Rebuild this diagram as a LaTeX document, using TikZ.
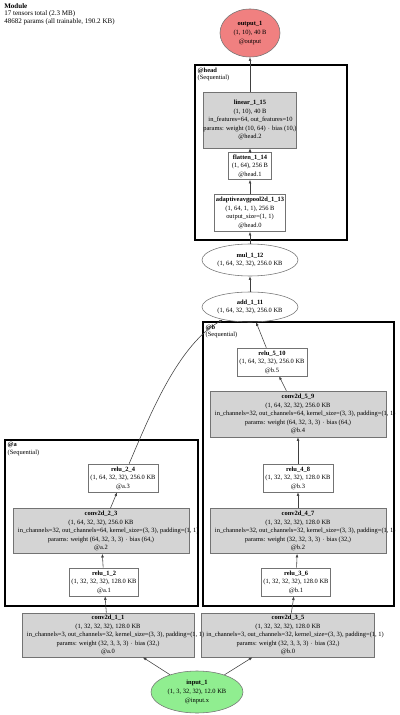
\documentclass[tikz,border=0pt]{standalone}
\usepackage{fontspec}
\setmainfont{Liberation Serif}
\usetikzlibrary{positioning,shapes,arrows.meta}
\definecolor{outred}{HTML}{F08080}
\definecolor{ingreen}{HTML}{90EE90}
\tikzstyle{block} = [draw=black!55, fill=white, inner sep=0pt, align=center, minimum width=1.75cm, minimum height=0.7cm]
\tikzstyle{pblock} = [block, fill=black!17]
\tikzstyle{blob} = [draw=black!55, ellipse, inner sep=0pt, align=center]
\tikzstyle{cluster} = [draw, line width=1.7pt]
\tikzstyle{clabel} = [anchor=north west, align=left, inner sep=1pt, font=\fontsize{4.6}{5.4}\selectfont]
\tikzstyle{edge} = [draw=black!75, -{Latex[length=2.6pt,width=2pt]}]
\newcommand{\rowtxt}[1]{\makebox[0pt]{#1}}
\newcommand{\widerow}[1]{\makebox[0pt][l]{\hspace*{\dimexpr 0.125cm-(\pgfkeysvalueof{/pgf/minimum width})/2\relax}#1}}
\newcommand{\actbox}[3]{\rowtxt{\textbf{#1}}\\\rowtxt{#2}\\\rowtxt{#3}}
\newcommand{\convbox}[5]{\rowtxt{\textbf{#1}}\\\rowtxt{#2}\\\widerow{#3}\\\rowtxt{#4}\\\rowtxt{#5}}

\begin{document}
\begin{tikzpicture}[x=0.025cm, y=-0.025cm, font=\fontsize{4.6}{6.1}\selectfont]
        \useasboundingbox (0,0) rectangle (400,715);
        %Header
        \node [anchor=north west, align=left, inner sep=0pt, font=\fontsize{5}{5.4}\selectfont] (summary) at (4,3)
            {\textbf{Module}\\17 tensors total (2.3 MB)\\48682 params (all trainable, 190.2 KB)};
        %Clusters
        \draw [cluster] (195,65) rectangle (347,240);
        \node [clabel] (headlbl) at (196,66) {\textbf{@head}\\(Sequential)};
        \draw [cluster] (203,322) rectangle (394,606);
        \node [clabel] (blbl) at (204,323) {\textbf{@b}\\(Sequential)};
        \draw [cluster] (5,440) rectangle (198,606);
        \node [clabel] (albl) at (6,441) {\textbf{@a}\\(Sequential)};
        %Nodes
        \node [blob, fill=outred, minimum width=1.5cm, minimum height=1.2cm] (output_1) at (250,33)
            {\actbox{output\_1}{(1, 10), 40 B}{@output}};
        \node [pblock, minimum width=2.325cm, minimum height=1.4cm] (linear_1_15) at (250,120)
            {\convbox{linear\_1\_15}{(1, 10), 40 B}{in\_features=64, out\_features=10}{params: weight (10, 64) $\cdot$ bias (10,)}{@head.2}};
        \node [block, minimum width=1.075cm, minimum height=0.675cm] (flatten_1_14) at (250,166)
            {\actbox{flatten\_1\_14}{(1, 64), 256 B}{@head.1}};
        \node [block, minimum width=1.775cm, minimum height=0.925cm] (adaptiveavgpool2d_1_13) at (250,213)
            {\rowtxt{\textbf{adaptiveavgpool2d\_1\_13}}\\\rowtxt{(1, 64, 1, 1), 256 B}\\\rowtxt{output\_size=(1, 1)}\\\rowtxt{@head.0}};
        \node [blob, minimum width=2.4cm, minimum height=0.8cm] (mul_1_12) at (250,260)
            {\rowtxt{\textbf{mul\_1\_12}}\\\rowtxt{(1, 64, 32, 32), 256.0 KB}};
        \node [blob, minimum width=2.4cm, minimum height=0.75cm] (add_1_11) at (250,307)
            {\rowtxt{\textbf{add\_1\_11}}\\\rowtxt{(1, 64, 32, 32), 256.0 KB}};
        % @b
        \node [block] (relu_5_10) at (272,362) {\actbox{relu\_5\_10}{(1, 64, 32, 32), 256.0 KB}{@b.5}};
        \node [pblock, minimum width=4.4cm, minimum height=1.15cm] (conv2d_5_9) at (298,414)
            {\convbox{conv2d\_5\_9}{(1, 64, 32, 32), 256.0 KB}{in\_channels=32, out\_channels=64, kernel\_size=(3, 3), padding=(1, 1)}{params: weight (64, 32, 3, 3) $\cdot$ bias (64,)}{@b.4}};
        \node [block] (relu_4_8) at (298,478) {\actbox{relu\_4\_8}{(1, 32, 32, 32), 128.0 KB}{@b.3}};
        \node [pblock, minimum width=4.4cm, minimum height=1.125cm] (conv2d_4_7) at (298,531)
            {\convbox{conv2d\_4\_7}{(1, 32, 32, 32), 128.0 KB}{in\_channels=32, out\_channels=32, kernel\_size=(3, 3), padding=(1, 1)}{params: weight (32, 32, 3, 3) $\cdot$ bias (32,)}{@b.2}};
        \node [block, minimum width=1.725cm] (relu_3_6) at (296,582) {\actbox{relu\_3\_6}{(1, 32, 32, 32), 128.0 KB}{@b.1}};
        \node [pblock, minimum width=4.325cm, minimum height=1.1cm] (conv2d_3_5) at (288,635)
            {\convbox{conv2d\_3\_5}{(1, 32, 32, 32), 128.0 KB}{in\_channels=3, out\_channels=32, kernel\_size=(3, 3), padding=(1, 1)}{params: weight (32, 3, 3, 3) $\cdot$ bias (32,)}{@b.0}};
        % @a
        \node [block] (relu_2_4) at (123,478) {\actbox{relu\_2\_4}{(1, 64, 32, 32), 256.0 KB}{@a.3}};
        \node [pblock, minimum width=4.4cm, minimum height=1.125cm] (conv2d_2_3) at (101,531)
            {\convbox{conv2d\_2\_3}{(1, 64, 32, 32), 256.0 KB}{in\_channels=32, out\_channels=64, kernel\_size=(3, 3), padding=(1, 1)}{params: weight (64, 32, 3, 3) $\cdot$ bias (64,)}{@a.2}};
        \node [block, minimum width=1.725cm] (relu_1_2) at (104,582) {\actbox{relu\_1\_2}{(1, 32, 32, 32), 128.0 KB}{@a.1}};
        \node [pblock, minimum width=4.3cm, minimum height=1.1cm] (conv2d_1_1) at (108,635)
            {\convbox{conv2d\_1\_1}{(1, 32, 32, 32), 128.0 KB}{in\_channels=3, out\_channels=32, kernel\_size=(3, 3), padding=(1, 1)}{params: weight (32, 3, 3, 3) $\cdot$ bias (32,)}{@a.0}};
        \node [blob, fill=ingreen, minimum width=2.3cm, minimum height=1.05cm] (input_1) at (197,692)
            {\actbox{input\_1}{(1, 3, 32, 32), 12.0 KB}{@input.x}};
        %Arrows
        \draw [edge] (input_1) -- (conv2d_1_1);
        \draw [edge] (input_1) -- (conv2d_3_5);
        \draw [edge] (conv2d_1_1) -- (relu_1_2);
        \draw [edge] (relu_1_2) -- (conv2d_2_3);
        \draw [edge] (conv2d_2_3) -- (relu_2_4);
        \draw [edge] (relu_2_4) .. controls (150,415) and (178,345) .. (add_1_11.205);
        \draw [edge] (conv2d_3_5) -- (relu_3_6);
        \draw [edge] (relu_3_6) -- (conv2d_4_7);
        \draw [edge] (conv2d_4_7) -- (relu_4_8);
        \draw [edge] (relu_4_8) -- (conv2d_5_9);
        \draw [edge] (conv2d_5_9) -- (relu_5_10);
        \draw [edge] (relu_5_10) -- (add_1_11);
        \draw [edge] (add_1_11) -- (mul_1_12);
        \draw [edge] (mul_1_12) -- (adaptiveavgpool2d_1_13);
        \draw [edge] (adaptiveavgpool2d_1_13) -- (flatten_1_14);
        \draw [edge] (flatten_1_14) -- (linear_1_15);
        \draw [edge] (linear_1_15) -- (output_1);
\end{tikzpicture}
\end{document}
